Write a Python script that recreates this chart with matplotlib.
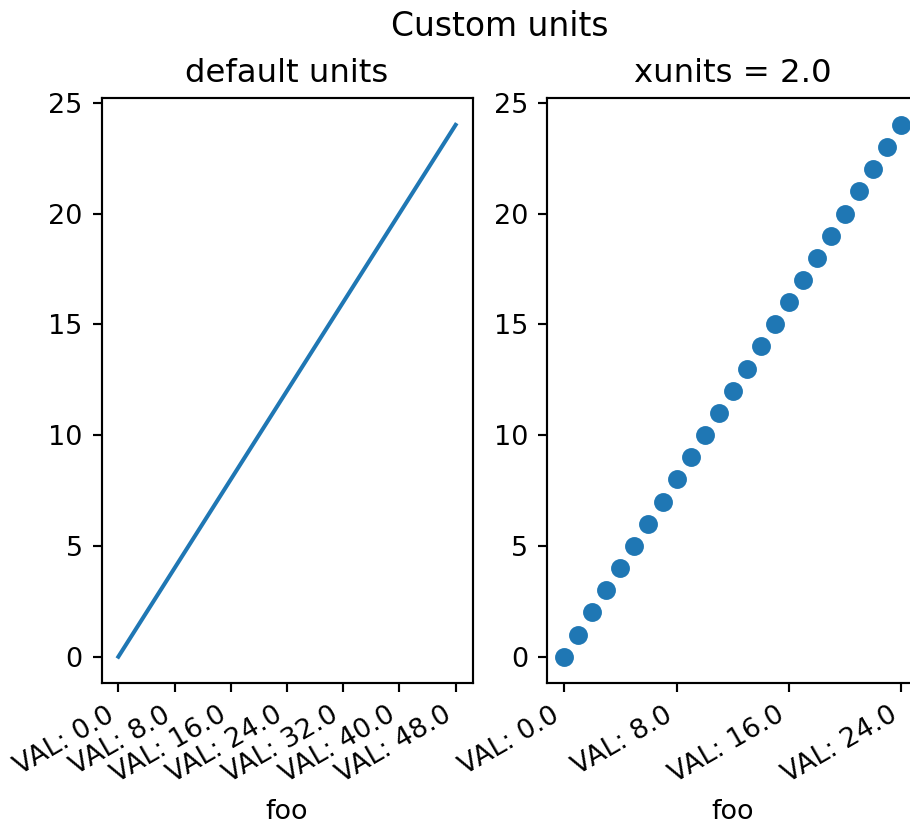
import matplotlib
matplotlib.use("Agg")
import matplotlib.pyplot as plt
from matplotlib import ticker

# data: Foo values (unit 1.0) and y indices
foo_values = [0, 2, 4, 6, 8, 10, 12, 14, 16, 18, 20, 22, 24, 26, 28, 30,
              32, 34, 36, 38, 40, 42, 44, 46, 48]
y_values = [0, 1, 2, 3, 4, 5, 6, 7, 8, 9, 10, 11, 12, 13, 14, 15, 16, 17,
            18, 19, 20, 21, 22, 23, 24]
xunits = 2.0
x_right = [v / xunits for v in foo_values]

W, H = 910, 825
DPI = 194
fig = plt.figure(figsize=(W / DPI, H / DPI), dpi=DPI)

bottom = (H - 683.3) / H
height = 585 / H
ax1 = fig.add_axes([101.5 / W, bottom, 371 / W, height])
ax2 = fig.add_axes([547.3 / W, bottom, 371 / W, height])

ax1.plot(foo_values, y_values, color='#1f77b4', lw=1.5)
ax1.set_title('default units', fontsize=12)
ax2.plot(x_right, y_values, 'o', color='#1f77b4')
ax2.set_title('xunits = 2.0', fontsize=12)

for ax in (ax1, ax2):
    ax.xaxis.set_major_locator(ticker.IndexLocator(8, 0))
    ax.xaxis.set_major_formatter(ticker.FormatStrFormatter("VAL: %s"))
    ax.set_xlabel('foo')
    ax.tick_params(labelsize=10)
    plt.setp(ax.get_xticklabels(), rotation=30, ha='right')

fig.text(500 / W, 1 - 36 / H, 'Custom units', ha='center', va='baseline',
         fontsize=12.2)

fig.savefig('out.png', dpi=DPI)
